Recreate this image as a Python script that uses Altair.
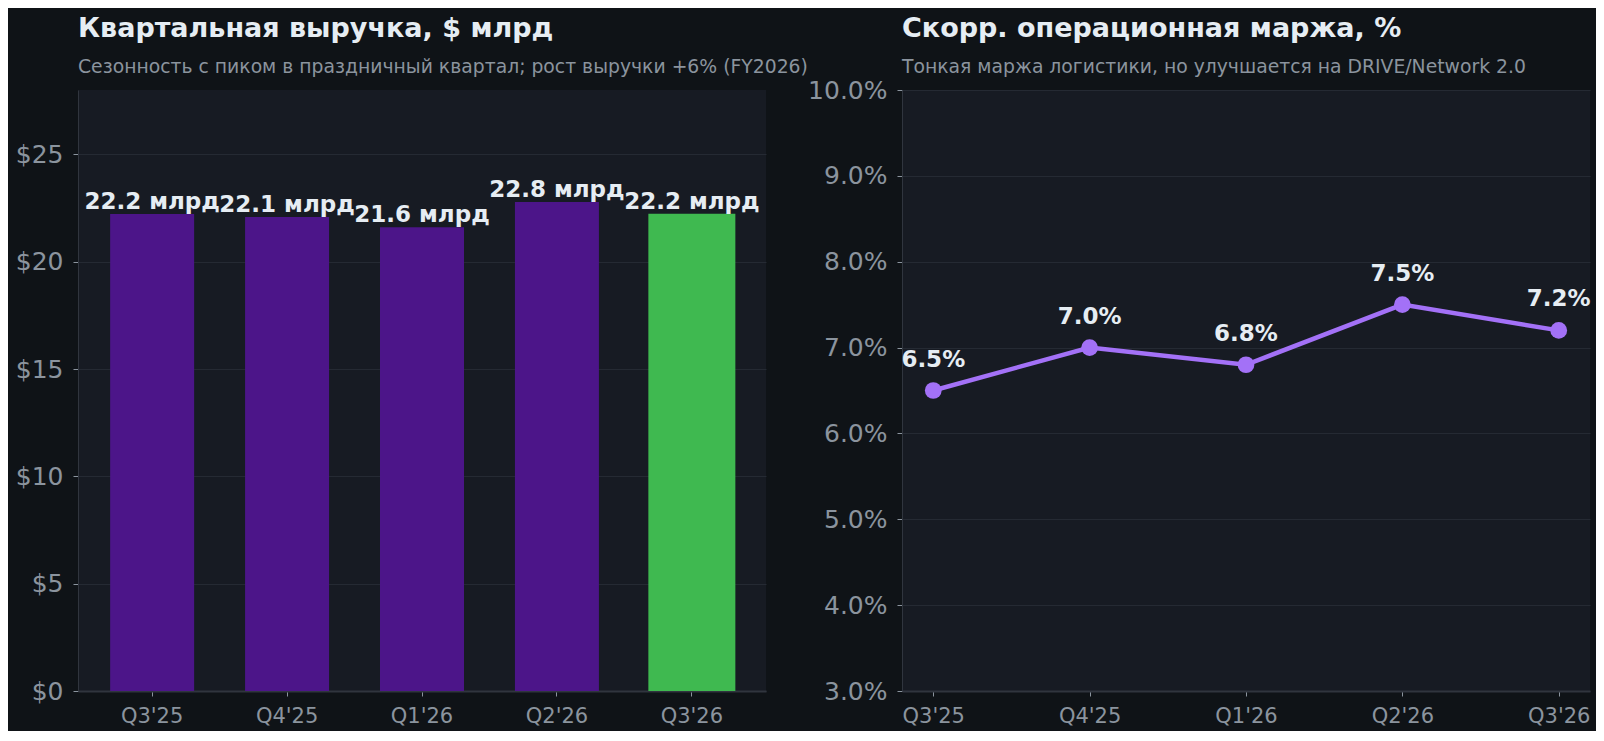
import altair as alt
import pandas as pd

# Datos
quarters = ["Q3'25", "Q4'25", "Q1'26", "Q2'26", "Q3'26"]
revenue = [22.22, 22.08, 21.6, 22.78, 22.24]
margin = [6.5, 7.0, 6.8, 7.5, 7.2]
current_quarter = "Q3'26"

BG = "#0f1317"
PLOT_BG = "#171b23"
GRID = "#252a33"
DOMAIN = "#30353e"
TICK_TXT = "#8b949e"
TITLE_TXT = "#e6edf3"
FONT = "DejaVu Sans"

rev_df = pd.DataFrame({"quarter": quarters, "revenue": revenue})
mar_df = pd.DataFrame({"quarter": quarters, "margin": margin})


def revenue_chart(df):
    """Barras de ingresos trimestrales con etiqueta de valor."""
    base = alt.Chart(df).encode(
        x=alt.X(
            "quarter:N",
            sort=quarters,
            scale=alt.Scale(paddingInner=0.377, paddingOuter=0.238),
            axis=alt.Axis(title=None, labelAngle=0, bandPosition=0.5, labelFontSize=21,
                          labelPadding=9, tickSize=5),
        ),
        y=alt.Y(
            "revenue:Q",
            scale=alt.Scale(domain=[0, 28], nice=False),
            axis=alt.Axis(title=None, values=[0, 5, 10, 15, 20, 25],
                          labelExpr="'$' + datum.value", labelFontSize=25,
                          labelPadding=10, tickSize=5),
        ),
    )
    bars = base.mark_bar().encode(
        color=alt.condition(alt.datum.quarter == current_quarter,
                            alt.value("#3fb950"), alt.value("#4c1589")),
        size=alt.condition(alt.datum.quarter == current_quarter,
                           alt.value(87), alt.value(84)),
    )
    labels = base.transform_calculate(
        label="format(datum.revenue, '.1f') + ' млрд'"
    ).mark_text(
        baseline="alphabetic", dy=-5, fontSize=23, fontWeight="bold",
        color=TITLE_TXT, font=FONT,
    ).encode(text="label:N")
    return (bars + labels).properties(
        width=688,
        height=601,
        title=alt.TitleParams(
            "Квартальная выручка, $ млрд",
            subtitle="Сезонность с пиком в праздничный квартал; рост выручки +6% (FY2026)",
            offset=12,
        ),
    )


def margin_chart(df):
    """Línea de margen operativo ajustado."""
    base = alt.Chart(df).encode(
        x=alt.X(
            "quarter:N",
            sort=quarters,
            scale=alt.Scale(type="point", padding=0.2),
            axis=alt.Axis(title=None, labelAngle=0, labelFontSize=21,
                          labelPadding=9, tickSize=5),
        ),
        y=alt.Y(
            "margin:Q",
            scale=alt.Scale(domain=[3, 10], nice=False),
            axis=alt.Axis(title=None, values=[3, 4, 5, 6, 7, 8, 9, 10],
                          labelExpr="format(datum.value, '.1f') + '%'", labelFontSize=25,
                          labelPadding=10, tickSize=5),
        ),
    )
    line = base.mark_line(color="#a371f7", strokeWidth=4.5)
    points = base.mark_circle(color="#a371f7", size=280, opacity=1)
    labels = base.transform_calculate(
        label="format(datum.margin, '.1f') + '%'"
    ).mark_text(
        baseline="alphabetic", dy=-24, fontSize=23, fontWeight="bold",
        color=TITLE_TXT, font=FONT,
    ).encode(text="label:N")
    # the top tick label sticks out above the plot, so the title sits closer
    return (line + points + labels).properties(
        width=688,
        height=601,
        title=alt.TitleParams(
            "Скорр. операционная маржа, %",
            subtitle="Тонкая маржа логистики, но улучшается на DRIVE/Network 2.0",
            offset=0,
        ),
    )


chart = alt.hconcat(
    revenue_chart(rev_df), margin_chart(mar_df), spacing=136, bounds="flush"
).properties(
    background=BG,
    padding={"left": 7, "top": 7, "right": 5, "bottom": 5},
).configure_view(
    fill=PLOT_BG, stroke=None,
).configure_axis(
    gridColor=GRID, gridWidth=1, domainColor=DOMAIN, domainWidth=2,
    tickColor=TICK_TXT, labelColor=TICK_TXT, labelFont=FONT,
).configure_axisY(
    domainWidth=1,
).configure_title(
    anchor="start", frame="group", font=FONT, fontSize=27, fontWeight="bold",
    color=TITLE_TXT, subtitleFont=FONT, subtitleFontSize=18.8, subtitleColor=TICK_TXT,
    subtitlePadding=15,
)

chart.save("out.html", embed_options={"renderer": "svg", "actions": False})
